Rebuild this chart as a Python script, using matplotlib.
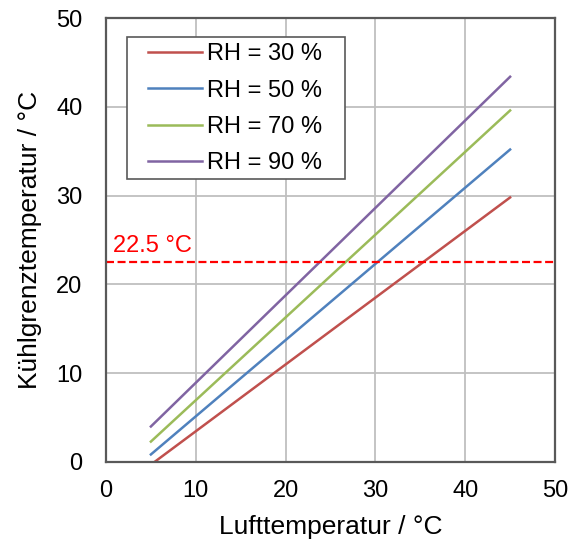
import matplotlib
matplotlib.use("Agg")
import matplotlib.pyplot as plt
from matplotlib.patches import Rectangle

plt.rcParams['font.family'] = ['Liberation Sans', 'DejaVu Sans']

# Lufttemperatur (x) und Kühlgrenztemperatur (y) je relative Feuchte
air_temp = [5, 45]
wb_rh30 = [-0.3, 29.8]
wb_rh50 = [0.85, 35.2]
wb_rh70 = [2.3, 39.6]
wb_rh90 = [4.0, 43.4]
labels = ["RH = 30 %", "RH = 50 %", "RH = 70 %", "RH = 90 %"]
colors = ["#C0504D", "#4F81BD", "#9BBB59", "#8064A2"]
limit_temp = 22.5

fig = plt.figure(figsize=(5.72, 5.5), dpi=100)
ax = fig.add_axes([0.1853, 0.16, 0.785, 0.807])

for ys, lab, col in zip([wb_rh30, wb_rh50, wb_rh70, wb_rh90], labels, colors):
    ax.plot(air_temp, ys, color=col, lw=1.8, label=lab)

ax.axhline(limit_temp, color="#FF0000", lw=1.6, ls=(0, (3.6, 1.6)))
ax.text(0.78, 23.65, f"{limit_temp} °C", color="#FF0000",
        fontsize=17, va="baseline", ha="left")

ax.set_xlim(0, 50)
ax.set_ylim(0, 50)
ax.set_xticks(range(0, 51, 10))
ax.set_yticks(range(0, 51, 10))
ax.grid(True, color="#BFBFBF", lw=1.3)
ax.set_axisbelow(True)
for sp in ax.spines.values():
    sp.set_color("#595959")
    sp.set_linewidth(1.6)
ax.tick_params(length=0, labelsize=17, colors="black")
ax.tick_params(axis="x", pad=13)
ax.tick_params(axis="y", pad=17)

ax.set_xlabel("Lufttemperatur / °C", fontsize=19, labelpad=9)
ax.set_ylabel("Kühlgrenztemperatur / °C", fontsize=19, labelpad=10)

# legend frame drawn separately so padding matches the original box
ax.add_patch(Rectangle((0.0468, 0.637), 0.485, 0.32, transform=ax.transAxes,
                       facecolor="white", edgecolor="#595959", lw=1.2, zorder=4))
leg = ax.legend(loc="upper left", bbox_to_anchor=(0.0935, 0.943), fontsize=17,
                frameon=False, handlelength=2.3, borderpad=0, borderaxespad=0,
                labelspacing=0.6, handletextpad=0.22)
leg.set_zorder(5)

fig.savefig("out.png", dpi=100)
